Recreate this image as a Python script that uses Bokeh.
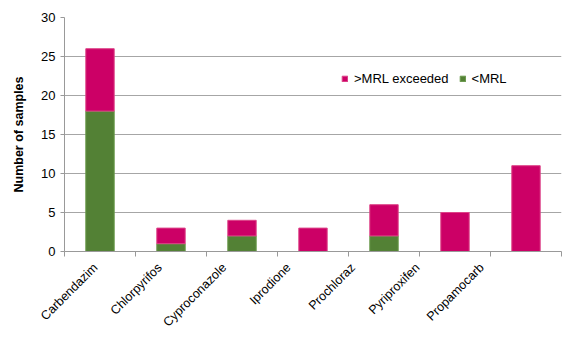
import numpy as np
from bokeh.plotting import figure
from bokeh.models import Range1d, FixedTicker, Legend, LegendItem, ColumnDataSource
from bokeh.embed import file_html
from bokeh.resources import INLINE

categories = ["Carbendazim", "Chlorpyrifos", "Cyproconazole", "Iprodione",
              "Prochloraz", "Pyriproxifen", "Propamocarb"]
below_mrl = [18, 1, 2, 0, 2, 0, 0]
above_mrl = [8, 2, 2, 3, 4, 5, 11]
y_ticks = [0, 5, 10, 15, 20, 25, 30]

PINK = "#CC0066"
GREEN = "#538135"
FONT = "Liberation Sans"
AXIS_GREY = "#999999"
# the original's category labels drift slightly left of their bars
LABEL_SCALE = 0.907
LABEL_OFFSET = -0.017

n = len(categories)
xpos = np.arange(n) + 0.5
label_pos = xpos * LABEL_SCALE + LABEL_OFFSET
low = np.array(below_mrl, dtype=float)
high = low + np.array(above_mrl, dtype=float)

src = ColumnDataSource(dict(x=xpos, low=low, high=high, zero=np.zeros(n)))

p = figure(width=572, height=337, output_backend="svg", toolbar_location=None,
           x_range=Range1d(0, n), y_range=Range1d(0, 30),
           min_border_left=64, min_border_right=11, min_border_top=17,
           min_border_bottom=86)
p.outline_line_color = None
p.background_fill_color = "white"

g = p.vbar(x="x", bottom="zero", top="low", width=0.4, source=src,
           fill_color=GREEN, line_color="#6a9a4c", line_width=1)
r = p.vbar(x="x", bottom="low", top="high", width=0.4, source=src,
           fill_color=PINK, line_color="#dd4488", line_width=1)

# x axis: labels (major ticks hidden), tick marks at category boundaries (minor)
p.xaxis.ticker = FixedTicker(ticks=list(label_pos), minor_ticks=list(range(n + 1)))
p.xaxis.major_label_overrides = {float(x): c for x, c in zip(label_pos, categories)}
p.xaxis.major_tick_line_color = None
p.xaxis.minor_tick_line_color = AXIS_GREY
p.xaxis.minor_tick_in = 0
p.xaxis.minor_tick_out = 5
p.xaxis.axis_line_color = AXIS_GREY
p.xaxis.major_label_orientation = np.pi / 4
p.xaxis.major_label_text_font = FONT
p.xaxis.major_label_text_font_size = "12.5px"
p.xaxis.major_label_text_color = "#000000"
p.xaxis.major_label_standoff = 8

p.yaxis.ticker = FixedTicker(ticks=y_ticks)
p.yaxis.minor_tick_line_color = None
p.yaxis.major_tick_in = 0
p.yaxis.major_tick_out = 4
p.yaxis.major_tick_line_color = AXIS_GREY
p.yaxis.axis_line_color = AXIS_GREY
p.yaxis.major_label_text_font = FONT
p.yaxis.major_label_text_font_size = "13px"
p.yaxis.major_label_text_color = "#000000"
p.yaxis.major_label_standoff = 5
p.yaxis.axis_label = "Number of samples"
p.yaxis.axis_label_text_font = FONT
p.yaxis.axis_label_text_font_size = "12.5px"
p.yaxis.axis_label_text_font_style = "bold"
p.yaxis.axis_label_text_color = "#000000"
p.yaxis.axis_label_standoff = 12

p.xgrid.grid_line_color = None
p.ygrid.grid_line_color = "#a6a6a6"
p.ygrid.grid_line_width = 1

legend = Legend(items=[LegendItem(label=">MRL exceeded", renderers=[r]),
                       LegendItem(label="<MRL", renderers=[g])],
                orientation="horizontal", location=(277, 165),
                padding=0, margin=0, spacing=10, label_standoff=6,
                glyph_width=7, glyph_height=7,
                label_text_font=FONT, label_text_font_size="13px",
                label_text_color="#000000",
                background_fill_alpha=0, border_line_color=None)
p.add_layout(legend)

open("out.html", "w").write(file_html(p, INLINE))
